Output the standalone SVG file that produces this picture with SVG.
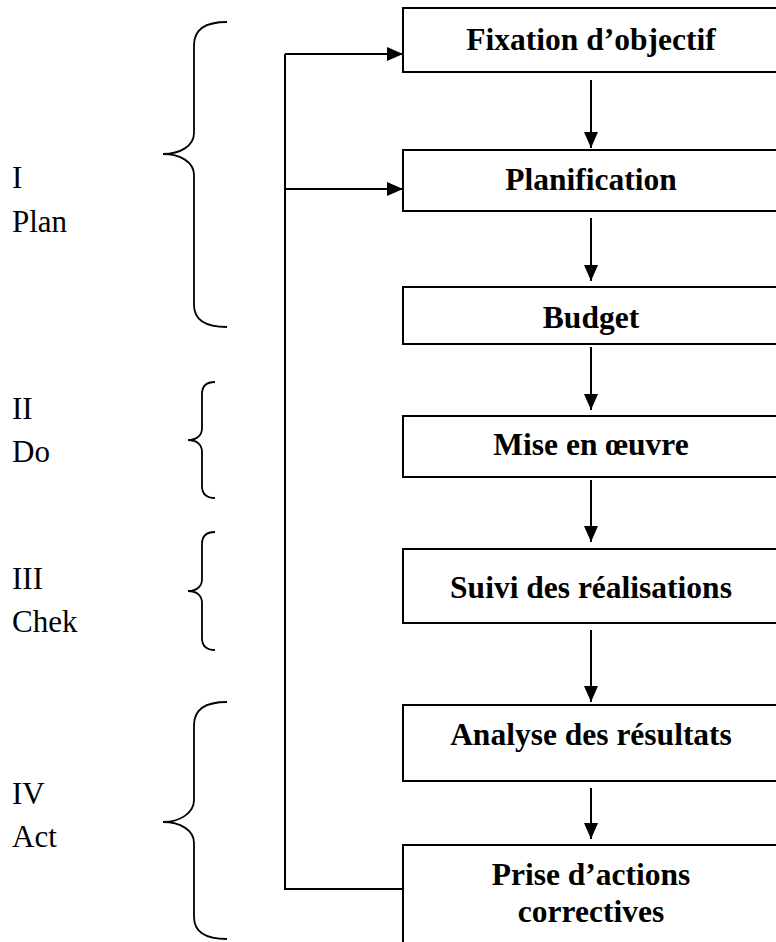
<svg xmlns="http://www.w3.org/2000/svg" width="776" height="942" viewBox="0 0 776 942">
<style>
.box{fill:#fff;stroke:#000;stroke-width:2}
.t{font-family:"Liberation Serif","Times New Roman",serif;font-weight:bold;font-size:31.5px;text-anchor:middle;fill:#000}
.lbl{font-family:"Liberation Serif","Times New Roman",serif;font-size:31px;fill:#000}
.ln{fill:none;stroke:#000;stroke-width:2}
.br{fill:none;stroke:#000;stroke-width:1.8}
</style>
<defs>
<marker id="ah" markerUnits="userSpaceOnUse" markerWidth="16" markerHeight="16" viewBox="0 0 16 16" refX="16" refY="8" orient="auto">
<polygon points="0,1 16,8 0,15" fill="#000"/>
</marker>
</defs>
<g id="braces">
<path class="br" d="M227,22 C205,22 194,30 194,45 L194,133 C194,146 180,154 163,154 C180,154 194,162 194,175 L194,305 C194,320 205,327 227,327"/>
<path class="br" d="M215,382 C207,382 202,386 202,394 L202,428 C202,436 196,440 188,440 C196,440 202,444 202,452 L202,486 C202,494 207,498 215,498"/>
<path class="br" d="M215,532 C207,532 202,536 202,544 L202,579 C202,587 196,591 188,591 C196,591 202,595 202,603 L202,638 C202,646 207,650 215,650"/>
<path class="br" d="M227,702 C205,702 194,710 194,725 L194,800 C194,813 180,822 163,822 C180,822 194,830 194,843 L194,917 C194,932 205,939 227,939"/>
</g>
<g id="labels">
<text class="lbl" x="12" y="188">I</text>
<text class="lbl" x="12" y="232">Plan</text>
<text class="lbl" x="12" y="419">II</text>
<text class="lbl" x="12" y="462">Do</text>
<text class="lbl" x="12" y="589">III</text>
<text class="lbl" x="12" y="632">Chek</text>
<text class="lbl" x="12" y="804">IV</text>
<text class="lbl" x="12" y="847">Act</text>
</g>
<g id="connectors">
<path class="ln" d="M285,54 L285,889 L403,889"/>
<line class="ln" x1="285" y1="54" x2="403" y2="54" marker-end="url(#ah)"/>
<line class="ln" x1="285" y1="189" x2="403" y2="189" marker-end="url(#ah)"/>
<line class="ln" x1="591" y1="80" x2="591" y2="148" marker-end="url(#ah)"/>
<line class="ln" x1="591" y1="218" x2="591" y2="281" marker-end="url(#ah)"/>
<line class="ln" x1="591" y1="347" x2="591" y2="410" marker-end="url(#ah)"/>
<line class="ln" x1="591" y1="480" x2="591" y2="542" marker-end="url(#ah)"/>
<line class="ln" x1="591" y1="630" x2="591" y2="702" marker-end="url(#ah)"/>
<line class="ln" x1="591" y1="788" x2="591" y2="839" marker-end="url(#ah)"/>
</g>
<g id="n1"><rect class="box" x="403" y="8" width="377" height="64"/><text class="t" x="591" y="50">Fixation d’objectif</text></g>
<g id="n2"><rect class="box" x="403" y="150" width="377" height="61"/><text class="t" x="591" y="190">Planification</text></g>
<g id="n3"><rect class="box" x="403" y="287" width="377" height="57"/><text class="t" x="591" y="328">Budget</text></g>
<g id="n4"><rect class="box" x="403" y="416" width="377" height="61"/><text class="t" x="591" y="455">Mise en œuvre</text></g>
<g id="n5"><rect class="box" x="403" y="549" width="377" height="74"/><text class="t" x="591" y="598">Suivi des réalisations</text></g>
<g id="n6"><rect class="box" x="403" y="705" width="377" height="76"/><text class="t" x="591" y="745">Analyse des résultats</text></g>
<g id="n7"><rect class="box" x="403" y="845" width="377" height="110"/><text class="t" x="591" y="885">Prise d’actions</text><text class="t" x="591" y="922">correctives</text></g>
</svg>
